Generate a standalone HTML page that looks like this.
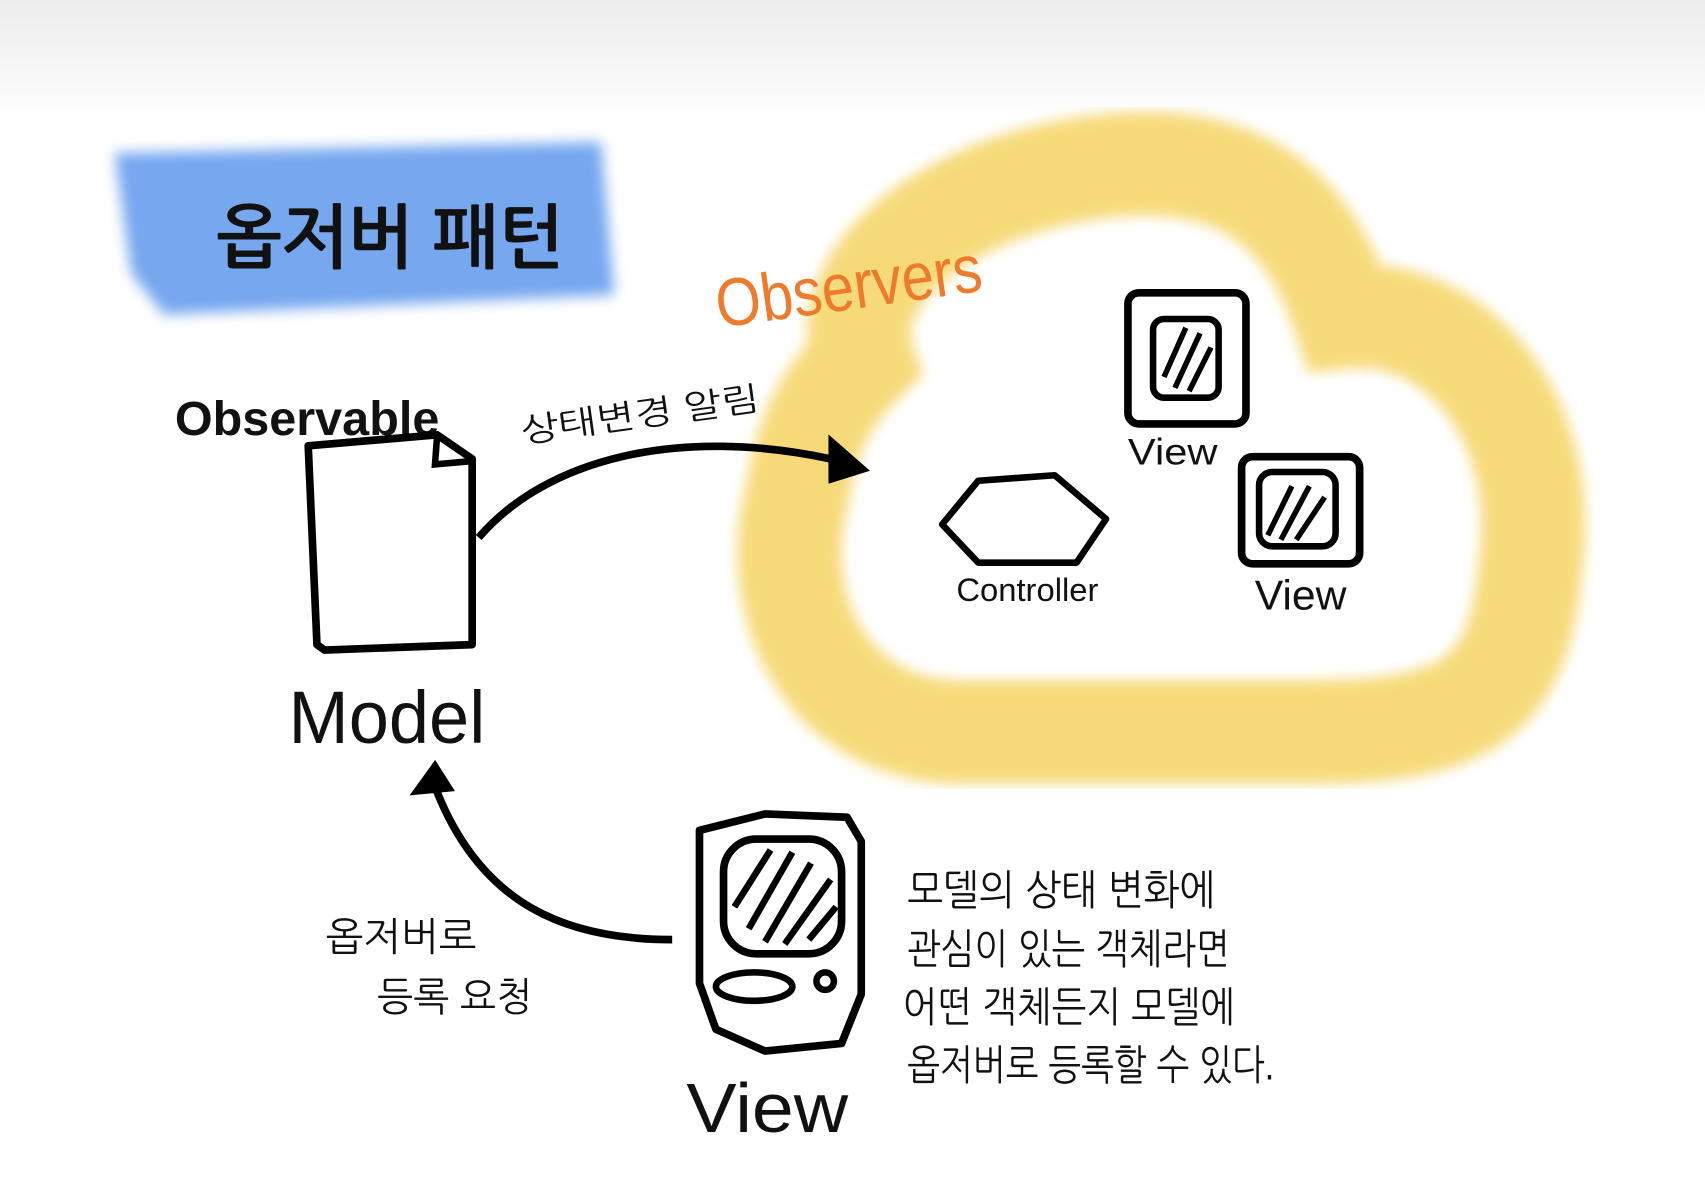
<!DOCTYPE html>
<html><head><meta charset="utf-8"><style>
html,body{margin:0;padding:0;background:#fff}
svg{display:block}
text{font-family:"Liberation Sans","NanumGothic","Noto Sans CJK KR",sans-serif;fill:#111}
</style></head><body>
<svg width="1705" height="1192" viewBox="0 0 1560 1091" preserveAspectRatio="none" xmlns="http://www.w3.org/2000/svg">
<defs>
<linearGradient id="g" x1="0" y1="0" x2="0" y2="1"><stop offset="0" stop-color="#ececec"/><stop offset="1" stop-color="#fff"/></linearGradient>
<filter id="b"><feGaussianBlur stdDeviation="6"/></filter>
</defs>
<rect width="1560" height="1091" fill="#fff"/>
<rect width="1560" height="110" fill="url(#g)"/>
<path d="M105 140 L550 130 L562 270 L150 288 L120 250 Z" fill="#6fa3ee" opacity="0.95" filter="url(#b)"/>
<text x="198" y="240" font-size="64" font-weight="bold" textLength="318" lengthAdjust="spacingAndGlyphs">옵저버 패턴</text>
<path d="M790 330 C760 240 900 150 1050 150 C1170 150 1210 230 1230 290 C1330 280 1420 380 1400 520 C1390 640 1340 670 1200 670 L880 670 C760 670 700 560 730 450 C740 380 770 350 790 330 Z" fill="none" stroke="#f5d463" stroke-width="95" opacity="0.85" filter="url(#b)"/>
<text x="658" y="300" font-size="62" style="fill:#ee7a2c" textLength="245" lengthAdjust="spacingAndGlyphs" transform="rotate(-8 658 300)">Observers</text>
<text x="160" y="398" font-size="44" font-weight="bold" textLength="242" lengthAdjust="spacingAndGlyphs">Observable</text>
<path d="M282 408 L400 398 L432 420 L432 590 L297 595 L290 590 Z" fill="#fff" stroke="#000" stroke-width="7" stroke-linejoin="round"/>
<path d="M400 398 L398 425 L432 422" fill="none" stroke="#000" stroke-width="6"/>
<text x="264" y="680" font-size="68" textLength="180" lengthAdjust="spacingAndGlyphs">Model</text>
<path d="M438 492 C500 420 620 390 760 420" fill="none" stroke="#000" stroke-width="7"/>
<path d="M760 402 L792 430 L760 440 Z" fill="#000" stroke="#000" stroke-width="4"/>
<text x="478" y="405" font-size="30" textLength="220" lengthAdjust="spacingAndGlyphs" transform="rotate(-8 478 405)">상태변경 알림</text>
<rect x="1032" y="268" width="108" height="120" rx="10" fill="none" stroke="#000" stroke-width="7"/>
<rect x="1055" y="292" width="60" height="72" rx="10" fill="none" stroke="#000" stroke-width="6"/>
<path d="M1065 345 L1085 300 M1075 355 L1098 305 M1088 358 L1108 318" stroke="#000" stroke-width="5"/>
<text x="1032" y="425" font-size="34" textLength="82" lengthAdjust="spacingAndGlyphs">View</text>
<rect x="1136" y="418" width="108" height="98" rx="10" fill="none" stroke="#000" stroke-width="7"/>
<rect x="1152" y="432" width="70" height="68" rx="12" fill="none" stroke="#000" stroke-width="6"/>
<path d="M1160 490 L1182 445 M1172 494 L1198 445 M1186 494 L1212 455" stroke="#000" stroke-width="5"/>
<text x="1148" y="558" font-size="38" textLength="84" lengthAdjust="spacingAndGlyphs">View</text>
<path d="M862 480 L895 440 L965 435 L1012 475 L985 515 L895 515 Z" fill="none" stroke="#000" stroke-width="6" stroke-linejoin="round"/>
<text x="875" y="550" font-size="30" textLength="130" lengthAdjust="spacingAndGlyphs">Controller</text>
<path d="M615 860 C520 860 440 830 398 720" fill="none" stroke="#000" stroke-width="7"/>
<path d="M380 725 L398 700 L412 722 Z" fill="#000" stroke="#000" stroke-width="5"/>
<text x="298" y="870" font-size="36" textLength="138" lengthAdjust="spacingAndGlyphs">옵저버로</text>
<text x="345" y="925" font-size="36" textLength="142" lengthAdjust="spacingAndGlyphs">등록 요청</text>
<path d="M640 760 L700 745 L775 748 L788 770 L788 910 L770 955 L700 962 L655 942 L640 900 Z" fill="none" stroke="#000" stroke-width="7" stroke-linejoin="round"/>
<rect x="662" y="768" width="108" height="105" rx="30" fill="none" stroke="#000" stroke-width="7"/>
<path d="M672 830 L705 778 M685 850 L725 780 M700 862 L742 790 M718 864 L760 805 M740 860 L765 830" stroke="#000" stroke-width="6"/>
<ellipse cx="690" cy="903" rx="35" ry="13" fill="none" stroke="#000" stroke-width="6"/>
<circle cx="755" cy="898" r="8" fill="none" stroke="#000" stroke-width="6"/>
<text x="628" y="1036" font-size="64" textLength="148" lengthAdjust="spacingAndGlyphs">View</text>
<text x="830" y="828" font-size="38" textLength="282" lengthAdjust="spacingAndGlyphs">모델의 상태 변화에</text>
<text x="830" y="882" font-size="38" textLength="295" lengthAdjust="spacingAndGlyphs">관심이 있는 객체라면</text>
<text x="826" y="935" font-size="38" textLength="304" lengthAdjust="spacingAndGlyphs">어떤 객체든지 모델에</text>
<text x="830" y="988" font-size="38" textLength="336" lengthAdjust="spacingAndGlyphs">옵저버로 등록할 수 있다.</text>
</svg>
</body></html>
